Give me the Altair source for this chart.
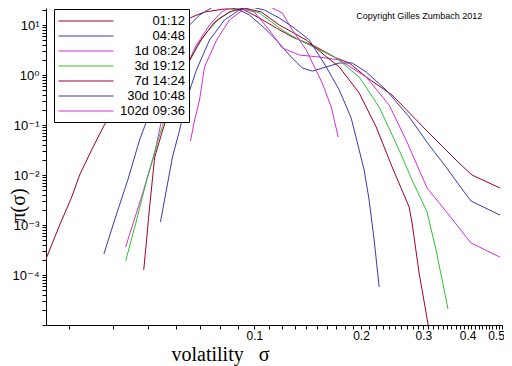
import altair as alt
import pandas as pd

SERIES = ["01:12", "04:48", "1d 08:24", "3d 19:12", "7d 14:24", "30d 10:48", "102d 09:36"]
COLORS = ["#a0002a", "#3a3aa8", "#d030d0", "#30c030", "#a0002a", "#3a3aa8", "#d030d0"]

# volatility sigma and density pi(sigma) for each horizon
s_0112 = [0.0258, 0.0282, 0.0305, 0.0321, 0.0347, 0.0373, 0.0417, 0.0474, 0.0540, 0.0587, 0.0656, 0.0723,
          0.0823, 0.0925, 0.1033, 0.1153, 0.1280, 0.1495, 0.1702, 0.1852, 0.2068, 0.2448, 0.3052, 0.3474,
          0.3781, 0.4113, 0.4932]
p_0112 = [2.09e-4, 1.0e-3, 3.63e-3, 0.0100, 0.0316, 0.0871, 0.347, 1.15, 3.98, 7.94, 13.8, 18.2,
          20.9, 20.9, 13.8, 8.71, 5.75, 3.63, 2.19, 1.74, 0.912, 0.398, 0.0794, 0.0316,
          0.0174, 0.0100, 0.00550]

s_0448 = [0.0376, 0.0403, 0.0439, 0.0474, 0.0506, 0.0540, 0.0576, 0.0615, 0.0656, 0.0700, 0.0762, 0.0823,
          0.0907, 0.0968, 0.1067, 0.1153, 0.1255, 0.1365, 0.1457, 0.1595, 0.1736, 0.1888, 0.2068, 0.2354,
          0.2734, 0.3112, 0.3474, 0.3781, 0.4087, 0.4932]
p_0448 = [2.63e-4, 1.26e-3, 7.94e-3, 0.0501, 0.174, 0.631, 2.00, 5.01, 10.0, 15.8, 22.9, 24.0,
          20.0, 15.8, 8.71, 5.01, 2.51, 1.38, 1.20, 1.45, 1.74, 1.74, 1.15, 0.501,
          0.145, 0.0398, 0.0145, 0.00631, 0.00302, 0.00158]

s_1d = [0.0433, 0.0484, 0.0523, 0.0547, 0.0587, 0.0635, 0.0686, 0.0747, 0.0807, 0.0867, 0.1000, 0.1102,
        0.1199, 0.1339, 0.1524, 0.1736, 0.2068, 0.2401, 0.2681, 0.3072, 0.3543, 0.4087, 0.4932]
p_1d = [3.63e-4, 4.37e-3, 0.0275, 0.126, 0.316, 1.26, 3.98, 10.0, 18.2, 24.0, 18.2, 7.94,
        3.47, 2.51, 2.29, 2.00, 0.912, 0.251, 0.0501, 0.00550, 0.00158, 4.37e-4, 2.29e-4]

s_3d = [0.0433, 0.0465, 0.0499, 0.0540, 0.0565, 0.0607, 0.0656, 0.0723, 0.0797, 0.0907, 0.1033, 0.1199,
        0.1339, 0.1429, 0.1702, 0.1976, 0.2250, 0.2561, 0.2787, 0.3072, 0.3257, 0.3520]
p_3d = [1.91e-4, 1.26e-3, 9.12e-3, 0.0631, 0.174, 0.550, 2.00, 6.31, 13.8, 22.9, 17.4, 7.94,
        5.01, 3.98, 2.19, 0.912, 0.229, 0.0316, 7.94e-3, 1.82e-3, 3.16e-4, 2.09e-5]

s_7d = [0.0487, 0.0506, 0.0523, 0.0551, 0.0587, 0.0635, 0.0700, 0.0772, 0.0850, 0.0937, 0.1046, 0.1176,
        0.1401, 0.1575, 0.1736, 0.1976, 0.2207, 0.2448, 0.2734, 0.2787, 0.2917, 0.3112]
p_7d = [1.26e-4, 2.29e-3, 0.0229, 0.0794, 0.316, 1.26, 4.57, 11.5, 18.2, 21.9, 18.2, 10.0,
        5.01, 2.51, 1.45, 0.437, 0.0912, 0.0145, 2.29e-3, 1.10e-3, 1.10e-4, 8.0e-6]

s_30d = [0.0543, 0.0587, 0.0615, 0.0643, 0.0686, 0.0747, 0.0823, 0.0907, 0.0981, 0.1067, 0.1176, 0.1296,
         0.1429, 0.1595, 0.1736, 0.1876, 0.1976, 0.2041, 0.2108, 0.2178, 0.2250]
p_30d = [1.15e-3, 0.0229, 0.0794, 0.316, 1.26, 5.01, 12.6, 20.0, 22.9, 20.0, 13.8, 8.71,
         5.01, 1.45, 0.501, 0.138, 0.0316, 0.0126, 3.16e-3, 5.01e-4, 5.75e-5]

s_102d = [0.0660, 0.0678, 0.0700, 0.0723, 0.0782, 0.0850, 0.0968, 0.1081, 0.1199, 0.1280, 0.1401, 0.1554,
          0.1648, 0.1724]
p_102d = [0.0479, 0.126, 0.316, 1.45, 5.01, 12.6, 25.1, 25.1, 17.4, 7.94, 3.16, 0.692,
          0.229, 0.0575]

SIGMAS = [s_0112, s_0448, s_1d, s_3d, s_7d, s_30d, s_102d]
PIS = [p_0112, p_0448, p_1d, p_3d, p_7d, p_30d, p_102d]

X_LABELS = {0.1: "0.1", 0.2: "0.2", 0.3: "0.3", 0.4: "0.4", 0.5: "0.5"}
Y_LABELS = {10.0: "10\u00b9", 1.0: "10\u2070", 0.1: "10\u207b\u00b9", 0.01: "10\u207b\u00b2",
            0.001: "10\u207b\u00b3", 0.0001: "10\u207b\u2074"}
X_TITLE = "volatility\u00a0\u00a0\u00a0\u03c3"
Y_TITLE = "\u03c0(\u03c3)"
COPYRIGHT = "Copyright Gilles Zumbach 2012"

X_DOMAIN = [0.0258, 0.5]
Y_DOMAIN = [1e-5, 21.9]

rows = []
for name, ss, ps in zip(SERIES, SIGMAS, PIS):
    for i, (s, p) in enumerate(zip(ss, ps)):
        rows.append({"horizon": name, "sigma": s, "pi": p, "idx": i})
df = pd.DataFrame(rows)

x_ticks = [round(k * 0.01, 2) for k in range(3, 51)]
y_ticks = [float(f"{k}e{e}") for e in range(-5, 2) for k in range(1, 10)]
y_ticks = [v for v in y_ticks if v <= Y_DOMAIN[1]]


def label_expr(mapping):
    expr = "''"
    for v, t in reversed(list(mapping.items())):
        expr = f"datum.value == {repr(v)} ? '{t}' : ({expr})"
    return expr


SANS = "Liberation Sans, DejaVu Sans, sans-serif"
SERIF = "Liberation Serif, DejaVu Serif, serif"

xs = alt.Scale(type="log", domain=X_DOMAIN, nice=False)
ys = alt.Scale(type="log", domain=Y_DOMAIN, nice=False)

lines = alt.Chart(df).mark_line(strokeWidth=1, clip=True).encode(
    x=alt.X("sigma:Q", scale=xs, axis=alt.Axis(
        values=x_ticks, labelExpr=label_expr(X_LABELS), title=X_TITLE,
        titleFont=SERIF, titleFontSize=20, titleFontWeight="normal", titleColor="black",
        titleX=174, titleY=35, titleAlign="center", titleBaseline="alphabetic",
        grid=False, domainColor="black", tickColor="black", tickSize=4,
        labelPadding=1, labelFont=SANS, labelFontSize=12, labelColor="black",
        labelOffset={"condition": {"test": "datum.value == 0.5", "value": -6}, "value": 0},
        labelOverlap=False, labelFlush=False, labelBound=False)),
    y=alt.Y("pi:Q", scale=ys, axis=alt.Axis(
        values=y_ticks, labelExpr=label_expr(Y_LABELS), title=Y_TITLE,
        titleFont=SERIF, titleFontSize=20, titleFontWeight="normal", titleColor="black",
        titleX=-38, titleY=197, titleAngle=270, titleAlign="center", titleBaseline="top",
        grid=False, domainColor="black", tickColor="black", tickSize=4,
        labelPadding=3, labelFont=SANS, labelFontSize=13, labelColor="black",
        labelOverlap=False, labelFlush=False, labelBound=False)),
    color=alt.Color("horizon:N", scale=alt.Scale(domain=SERIES, range=COLORS), legend=alt.Legend(
        title=None, orient="none", legendX=8, legendY=1, direction="vertical",
        symbolType="M-3.667,0H3.667", symbolSize=225, symbolStrokeWidth=1,
        symbolOffset=20, labelAlign="right", labelOffset=91, labelLimit=300,
        labelFont=SANS, labelFontSize=13, labelColor="black",
        strokeColor="black", fillColor="white", padding=4, rowPadding=-0.7)),
    order="idx:Q",
)

note = alt.Chart(pd.DataFrame({"sigma": [0.292], "pi": [15.1], "t": [COPYRIGHT]})).mark_text(
    font=SANS, fontSize=9, color="black", align="center", baseline="middle"
).encode(x=alt.X("sigma:Q", scale=xs), y=alt.Y("pi:Q", scale=ys), text="t:N")

chart = alt.layer(lines, note).properties(
    width=456, height=317, autosize="none",
    padding={"left": 38, "top": 0, "right": 2, "bottom": 41},
    background="white",
).configure_view(strokeWidth=0)

chart.save("out.html", embed_options={"renderer": "svg", "actions": False})
